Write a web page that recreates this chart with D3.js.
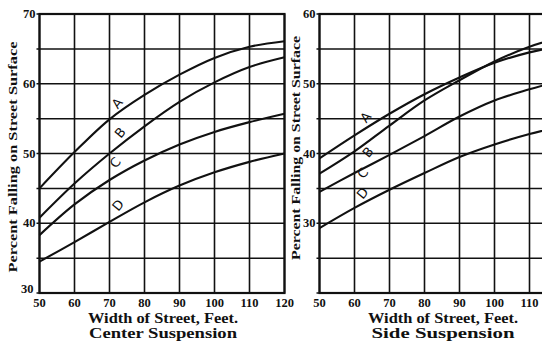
<!DOCTYPE html>
<html><head><meta charset="utf-8">
<script src="https://cdn.jsdelivr.net/npm/d3@7"></script>
<style>body{margin:0;background:#fff}svg{display:block}text{font-family:"Liberation Serif","DejaVu Serif",serif;font-weight:bold;fill:#111}</style>
</head><body><svg id="c" width="542" height="342"></svg>
<script>
const widths = [50, 60, 70, 80, 90, 100, 110, 120];
const seriesNames = ["A", "B", "C", "D"];
// Center suspension
const centerA = [45.0, 50.2, 54.9, 58.4, 61.3, 63.7, 65.3, 66.1];
const centerB = [40.8, 45.7, 50.0, 53.9, 57.4, 60.2, 62.4, 63.8];
const centerC = [38.3, 42.7, 46.2, 49.0, 51.3, 53.1, 54.5, 55.7];
const centerD = [34.5, 37.3, 40.2, 43.0, 45.4, 47.3, 48.8, 50.0];
// Side suspension
const sideA = [39.3, 42.6, 45.7, 48.5, 50.9, 53.0, 54.5, 55.5];
const sideB = [37.1, 40.3, 44.0, 47.6, 50.5, 53.2, 55.3, 56.8];
const sideC = [34.5, 37.2, 39.8, 42.5, 45.3, 47.6, 49.2, 50.6];
const sideD = [29.3, 32.2, 34.8, 37.2, 39.5, 41.3, 42.8, 44.0];
const centerYTicks = [70, 60, 50, 40, 30];
const sideYTicks = [60, 50, 40, 30];
const xTickLabels = ["50","60","70","80","90","100","110","120"];
const centerLabelPos = [[72.2,57.2],[73.0,53.0],[71.6,48.7],[72.4,42.6]];
const sideLabelPos = [[63.2,45.2],[63.8,40.2],[62.3,37.2],[62.3,34.3]];

const svg = d3.select("#c");

function panel(opt){
  const x = d3.scaleLinear().domain([50,120]).range([opt.x0, opt.x1]);
  const y = d3.scaleLinear().domain(opt.yDom).range([293, 14]);
  const g = svg.append("g");
  g.selectAll("line.v").data(widths).join("line")
    .attr("x1", d=>x(d)).attr("x2", d=>x(d)).attr("y1", y.range()[1]).attr("y2", y.range()[0])
    .attr("stroke","#111").attr("stroke-width",1.6);
  const yg = d3.range(opt.yDom[0], opt.yDom[1]+0.1, 5);
  g.selectAll("line.h").data(yg).join("line")
    .attr("x1", x(50)-3).attr("x2", x(120)).attr("y1", d=>y(d)).attr("y2", d=>y(d))
    .attr("stroke","#111").attr("stroke-width",1.5);
  g.append("rect").attr("x",x(50)).attr("y",y(opt.yDom[1])).attr("width",x(120)-x(50)).attr("height",y(opt.yDom[0])-y(opt.yDom[1]))
    .attr("fill","none").attr("stroke","#111").attr("stroke-width",2.2);
  const line = d3.line().x((d,i)=>x(widths[i])).y(d=>y(d)).curve(d3.curveCatmullRom.alpha(0.5));
  opt.series.forEach(s=>{
    g.append("path").attr("d", line(s)).attr("fill","none").attr("stroke","#111").attr("stroke-width",2.1);
  });
  opt.labels.forEach((p,i)=>{
    g.append("text").attr("transform",`translate(${x(p[0])},${y(p[1])}) rotate(-50)`)
      .attr("text-anchor","middle").attr("dy","0.35em").style("font-weight","normal").style("font-family","'DejaVu Sans',sans-serif")
      .attr("font-size",13).text(seriesNames[i]);
  });
  opt.yTicks.forEach(t=>{
    g.append("text").attr("x", x(50)-4 - (t===opt.yDom[0]?2:0)).attr("y", y(t)+ (t===opt.yDom[0]?0:4)).attr("text-anchor","end")
      .attr("font-size",12.5).text(t);
  });
  widths.forEach((w,i)=>{
    if (x(w) > 545) return;
    g.append("text").attr("x", Math.min(x(w), 541 - 11)).attr("y", 307).attr("text-anchor","middle").attr("font-size",12.5).text(xTickLabels[i]);
  });
  g.append("text").attr("x", opt.titleX).attr("y", 323).attr("text-anchor","middle").attr("font-size",14)
    .attr("textLength",150).attr("lengthAdjust","spacingAndGlyphs").text("Width of Street, Feet.");
  g.append("text").attr("x", opt.titleX).attr("y", 338).attr("text-anchor","middle").attr("font-size",14.5)
    .attr("textLength",opt.titleLen).attr("lengthAdjust","spacingAndGlyphs").text(opt.title);
  g.append("text").attr("transform",`translate(${opt.yTitleX},${opt.yTitleY}) rotate(-90)`).attr("text-anchor","middle")
    .attr("font-size",13.5).attr("textLength",opt.yTitleLen).attr("lengthAdjust","spacingAndGlyphs").text("Percent Falling on Street Surface");
}

panel({x0:39.5, x1:284.5, yDom:[30,70], series:[centerA,centerB,centerC,centerD], labels:centerLabelPos,
  yTicks:centerYTicks, title:"Center Suspension", titleLen:148, titleX:163, yTitleX:17, yTitleY:157, yTitleLen:231});
panel({x0:319.5, x1:564.5, yDom:[20,60], series:[sideA,sideB,sideC,sideD], labels:sideLabelPos,
  yTicks:sideYTicks, title:"Side Suspension", titleLen:143, titleX:443, yTitleX:300, yTitleY:148, yTitleLen:224});
</script></body></html>
